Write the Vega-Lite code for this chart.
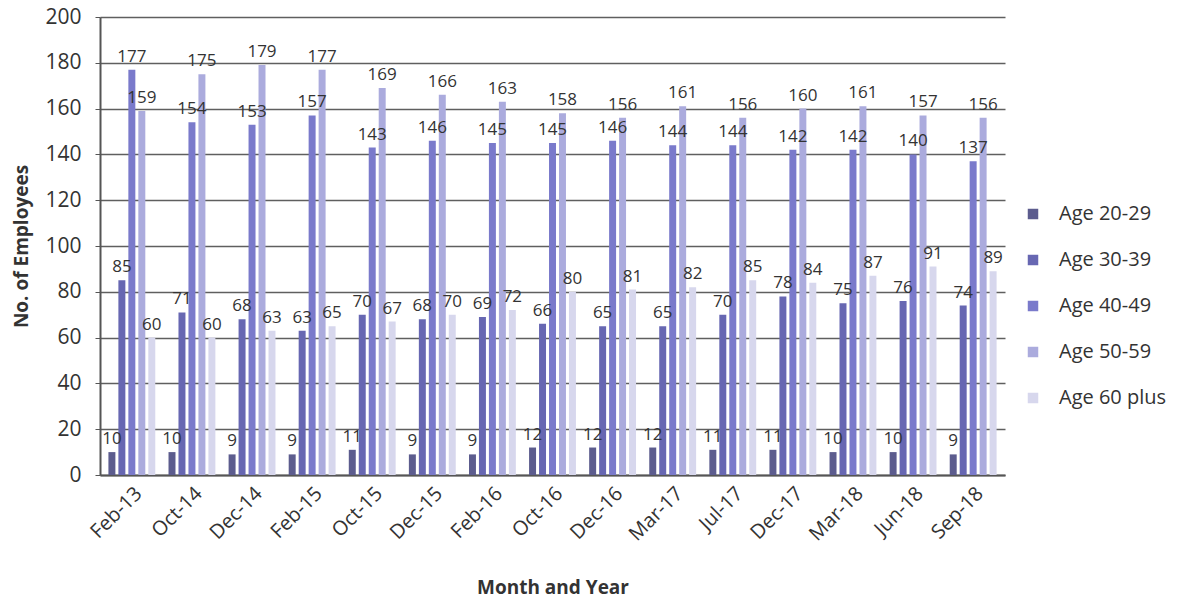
{
  "$schema": "https://vega.github.io/schema/vega-lite/v6.json",
  "autosize": "none",
  "width": 905,
  "height": 458,
  "padding": {"left": 100, "top": 17, "right": 190, "bottom": 125},
  "background": "white",
  "config": {
    "font": "Open Sans",
    "view": {"stroke": null}
  },
  "data": {
    "values": [
      {"month": "Feb-13", "age": "Age 20-29", "n": 10}, {"month": "Feb-13", "age": "Age 30-39", "n": 85}, {"month": "Feb-13", "age": "Age 40-49", "n": 177}, {"month": "Feb-13", "age": "Age 50-59", "n": 159}, {"month": "Feb-13", "age": "Age 60 plus", "n": 60},
      {"month": "Oct-14", "age": "Age 20-29", "n": 10}, {"month": "Oct-14", "age": "Age 30-39", "n": 71}, {"month": "Oct-14", "age": "Age 40-49", "n": 154}, {"month": "Oct-14", "age": "Age 50-59", "n": 175}, {"month": "Oct-14", "age": "Age 60 plus", "n": 60},
      {"month": "Dec-14", "age": "Age 20-29", "n": 9}, {"month": "Dec-14", "age": "Age 30-39", "n": 68}, {"month": "Dec-14", "age": "Age 40-49", "n": 153}, {"month": "Dec-14", "age": "Age 50-59", "n": 179}, {"month": "Dec-14", "age": "Age 60 plus", "n": 63},
      {"month": "Feb-15", "age": "Age 20-29", "n": 9}, {"month": "Feb-15", "age": "Age 30-39", "n": 63}, {"month": "Feb-15", "age": "Age 40-49", "n": 157}, {"month": "Feb-15", "age": "Age 50-59", "n": 177}, {"month": "Feb-15", "age": "Age 60 plus", "n": 65},
      {"month": "Oct-15", "age": "Age 20-29", "n": 11}, {"month": "Oct-15", "age": "Age 30-39", "n": 70}, {"month": "Oct-15", "age": "Age 40-49", "n": 143}, {"month": "Oct-15", "age": "Age 50-59", "n": 169}, {"month": "Oct-15", "age": "Age 60 plus", "n": 67},
      {"month": "Dec-15", "age": "Age 20-29", "n": 9}, {"month": "Dec-15", "age": "Age 30-39", "n": 68}, {"month": "Dec-15", "age": "Age 40-49", "n": 146}, {"month": "Dec-15", "age": "Age 50-59", "n": 166}, {"month": "Dec-15", "age": "Age 60 plus", "n": 70},
      {"month": "Feb-16", "age": "Age 20-29", "n": 9}, {"month": "Feb-16", "age": "Age 30-39", "n": 69}, {"month": "Feb-16", "age": "Age 40-49", "n": 145}, {"month": "Feb-16", "age": "Age 50-59", "n": 163}, {"month": "Feb-16", "age": "Age 60 plus", "n": 72},
      {"month": "Oct-16", "age": "Age 20-29", "n": 12}, {"month": "Oct-16", "age": "Age 30-39", "n": 66}, {"month": "Oct-16", "age": "Age 40-49", "n": 145}, {"month": "Oct-16", "age": "Age 50-59", "n": 158}, {"month": "Oct-16", "age": "Age 60 plus", "n": 80},
      {"month": "Dec-16", "age": "Age 20-29", "n": 12}, {"month": "Dec-16", "age": "Age 30-39", "n": 65}, {"month": "Dec-16", "age": "Age 40-49", "n": 146}, {"month": "Dec-16", "age": "Age 50-59", "n": 156}, {"month": "Dec-16", "age": "Age 60 plus", "n": 81},
      {"month": "Mar-17", "age": "Age 20-29", "n": 12}, {"month": "Mar-17", "age": "Age 30-39", "n": 65}, {"month": "Mar-17", "age": "Age 40-49", "n": 144}, {"month": "Mar-17", "age": "Age 50-59", "n": 161}, {"month": "Mar-17", "age": "Age 60 plus", "n": 82},
      {"month": "Jul-17", "age": "Age 20-29", "n": 11}, {"month": "Jul-17", "age": "Age 30-39", "n": 70}, {"month": "Jul-17", "age": "Age 40-49", "n": 144}, {"month": "Jul-17", "age": "Age 50-59", "n": 156}, {"month": "Jul-17", "age": "Age 60 plus", "n": 85},
      {"month": "Dec-17", "age": "Age 20-29", "n": 11}, {"month": "Dec-17", "age": "Age 30-39", "n": 78}, {"month": "Dec-17", "age": "Age 40-49", "n": 142}, {"month": "Dec-17", "age": "Age 50-59", "n": 160}, {"month": "Dec-17", "age": "Age 60 plus", "n": 84},
      {"month": "Mar-18", "age": "Age 20-29", "n": 10}, {"month": "Mar-18", "age": "Age 30-39", "n": 75}, {"month": "Mar-18", "age": "Age 40-49", "n": 142}, {"month": "Mar-18", "age": "Age 50-59", "n": 161}, {"month": "Mar-18", "age": "Age 60 plus", "n": 87},
      {"month": "Jun-18", "age": "Age 20-29", "n": 10}, {"month": "Jun-18", "age": "Age 30-39", "n": 76}, {"month": "Jun-18", "age": "Age 40-49", "n": 140}, {"month": "Jun-18", "age": "Age 50-59", "n": 157}, {"month": "Jun-18", "age": "Age 60 plus", "n": 91},
      {"month": "Sep-18", "age": "Age 20-29", "n": 9}, {"month": "Sep-18", "age": "Age 30-39", "n": 74}, {"month": "Sep-18", "age": "Age 40-49", "n": 137}, {"month": "Sep-18", "age": "Age 50-59", "n": 156}, {"month": "Sep-18", "age": "Age 60 plus", "n": 89}
    ]
  },
  "encoding": {
    "x": {
      "field": "month", "type": "nominal", "sort": null,
      "scale": {"paddingInner": 0.22, "paddingOuter": 0.14},
      "axis": {
        "title": "Month and Year", "titleFontSize": 19, "titleFontWeight": "bold", "titleColor": "#333",
        "titlePadding": 34,
        "labelAngle": -45, "labelFontSize": 20, "labelColor": "#333", "labelPadding": 8,
        "domainColor": "#555", "domainWidth": 2, "ticks": false
      }
    },
    "xOffset": {"field": "age", "type": "nominal", "scale": {"paddingInner": 0.3}},
    "y": {
      "field": "n", "type": "quantitative",
      "scale": {"domain": [0, 200], "nice": false},
      "axis": {
        "title": "No. of Employees", "titleFontSize": 19, "titleFontWeight": "bold", "titleColor": "#333",
        "titlePadding": 13,
        "values": [0, 20, 40, 60, 80, 100, 120, 140, 160, 180, 200],
        "labelFontSize": 21, "labelColor": "#333", "labelPadding": 14,
        "grid": true, "gridColor": "#5f5f5f", "gridWidth": 1.5,
        "domainColor": "#555", "domainWidth": 2,
        "tickColor": "#555", "tickSize": 5
      }
    }
  },
  "layer": [
    {
      "mark": {"type": "bar"},
      "encoding": {
        "color": {
          "field": "age", "type": "nominal",
          "scale": {
            "domain": ["Age 20-29", "Age 30-39", "Age 40-49", "Age 50-59", "Age 60 plus"],
            "range": ["#5c5c8e", "#6767b2", "#7a7acb", "#ababdd", "#d7d7ed"]
          },
          "legend": {
            "title": null, "orient": "none", "legendX": 923, "legendY": 187,
            "symbolType": "square", "symbolSize": 110, "symbolStrokeWidth": 0,
            "labelFontSize": 20, "labelColor": "#333", "rowPadding": 26, "labelOffset": 16
          }
        }
      }
    },
    {
      "mark": {"type": "text", "baseline": "bottom", "dy": -4, "fontSize": 17, "color": "#333"},
      "encoding": {
        "text": {"field": "n", "type": "quantitative"}
      }
    }
  ]
}
